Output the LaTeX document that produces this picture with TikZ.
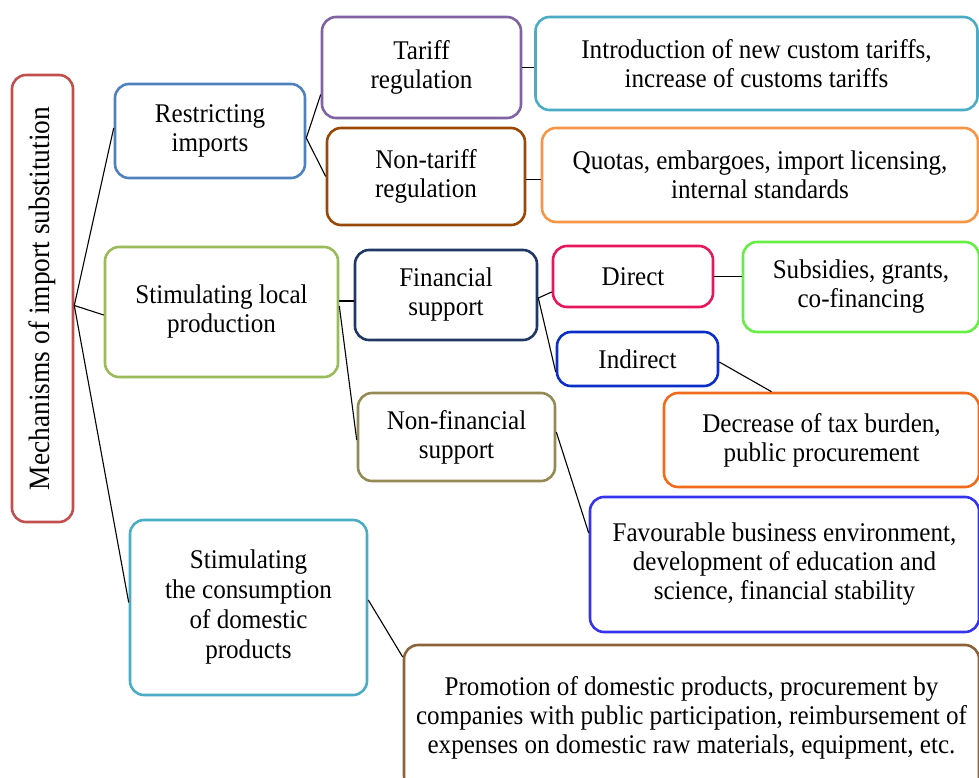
\documentclass[tikz,border=0pt]{standalone}
\usepackage{fontspec}
\setmainfont{Liberation Serif}
\newfontfamily\tnr[FakeStretch=0.93]{Liberation Serif}
\usetikzlibrary{calc}
\definecolor{cMain}{HTML}{C0504D}
\definecolor{cRestr}{HTML}{4F81BD}
\definecolor{cTariff}{HTML}{8064A2}
\definecolor{cIntro}{HTML}{4BACC6}
\definecolor{cNonTar}{HTML}{984807}
\definecolor{cQuotas}{HTML}{F79646}
\definecolor{cLocal}{HTML}{9BBB59}
\definecolor{cFin}{HTML}{1F3864}
\definecolor{cDirect}{HTML}{E8175D}
\definecolor{cSubs}{HTML}{66EE44}
\definecolor{cIndir}{HTML}{0A2FC8}
\definecolor{cDecr}{HTML}{F26B1D}
\definecolor{cNonFin}{HTML}{948A54}
\definecolor{cFav}{HTML}{3333F0}
\definecolor{cCons}{HTML}{4BACC6}
\definecolor{cPromo}{HTML}{8B6239}
\tikzset{
  box/.style={draw=#1, line width=2.6pt, rounded corners=14pt, rectangle, align=center,
    inner sep=0pt, font=\tnr\fontsize{27}{29}\selectfont},
  conn/.style={draw=black, line width=1.1pt},
}
\begin{document}
\begin{tikzpicture}[x=1pt,y=-1pt]
\useasboundingbox (0,0) rectangle (979,778);
\fill[white] (0,0) rectangle (979,778);
% nodes
\node[box=cMain, minimum width=61pt, minimum height=447pt] (main) at (42.5,298.5) {};
\node[rotate=90, font=\tnr\fontsize{29.5}{29}\selectfont] (maintxt) at (main.center) {Mechanisms of import substitution};
\node[box=cRestr, minimum width=190pt, minimum height=94pt] (restr) at (210,131) {Restricting\\imports};
\node[box=cTariff, minimum width=199pt, minimum height=101pt] (tariff) at (421.5,67.5) {Tariff\\regulation};
\node[box=cIntro, minimum width=442pt, minimum height=93pt] (intro) at (756.5,63.5) {Introduction of new custom tariffs,\\increase of customs tariffs};
\node[box=cNonTar, minimum width=198pt, minimum height=97pt] (nontar) at (426,176.5) {Non-tariff\\regulation};
\node[box=cQuotas, minimum width=436pt, minimum height=94pt] (quotas) at (760,175) {Quotas, embargoes, import licensing,\\internal standards};
\node[box=cLocal, minimum width=233pt, minimum height=130pt] (local) at (221.5,312) {Stimulating local\\production};
\node[box=cFin, minimum width=182pt, minimum height=90pt] (fin) at (446,295) {Financial\\support};
\node[box=cDirect, minimum width=160pt, minimum height=61pt] (direct) at (633,276.5) {Direct};
\node[box=cSubs, minimum width=236pt, minimum height=90pt] (subs) at (861,287) {Subsidies, grants,\\co-financing};
\node[box=cIndir, minimum width=161pt, minimum height=54pt] (indir) at (637.5,359) {Indirect};
\node[box=cDecr, minimum width=315pt, minimum height=94pt] (decr) at (821.5,440) {Decrease of tax burden,\\public procurement};
\node[box=cNonFin, minimum width=197pt, minimum height=88pt] (nonfin) at (456.5,437) {Non-financial\\support};
\node[box=cFav, minimum width=389pt, minimum height=135pt] (fav) at (784.5,564.5) {Favourable business environment,\\development of education and\\science, financial stability};
\node[box=cCons, minimum width=237pt, minimum height=175pt, font=\tnr\fontsize{27}{30}\selectfont] (cons) at (248.5,607.5) {Stimulating\\the consumption\\of domestic\\products};
\node[box=cPromo, minimum width=575pt, minimum height=145pt] (promo) at (691.5,717.5) {Promotion of domestic products, procurement by\\companies with public participation, reimbursement of\\expenses on domestic raw materials, equipment, etc.};
% connectors
\coordinate (hub) at ([yshift=-7pt]main.east);
\draw[conn] (hub) -- ([yshift=3pt]restr.west);
\draw[conn] (hub) -- ([yshift=-3pt]local.west);
\draw[conn] (hub) -- ([yshift=5pt]cons.west);
\coordinate (rj) at ([yshift=-7pt]restr.east);
\draw[conn] (rj) -- ([yshift=-27pt]tariff.west);
\draw[conn] (rj) -- (nontar.west);
\draw[conn] (tariff.east) -- (tariff.east -| intro.west);
\draw[conn] ([yshift=-3pt]nontar.east) -- ([yshift=-3pt]nontar.east -| quotas.west);
\draw[conn] ([yshift=11pt]local.east) -- ([yshift=11pt]local.east -| fin.west);
\draw[conn] ([yshift=6pt]local.east) -- ([yshift=-3pt]nonfin.west);
\coordinate (fj) at ([yshift=-3pt]fin.east);
\draw[conn] (fj) -- ([yshift=-15.5pt]direct.west);
\draw[conn] (fj) -- ([yshift=-13pt]indir.west);
\draw[conn] (direct.east) -- (direct.east -| subs.west);
\draw[conn] ([yshift=-3pt]indir.east) -- ([xshift=-50pt]decr.north);
\draw[conn] ([yshift=5pt]nonfin.east) -- ([yshift=31.5pt]fav.west);
\draw[conn] ([yshift=7.5pt]cons.east) -- ([yshift=60.5pt]promo.west);
\end{tikzpicture}
\end{document}
